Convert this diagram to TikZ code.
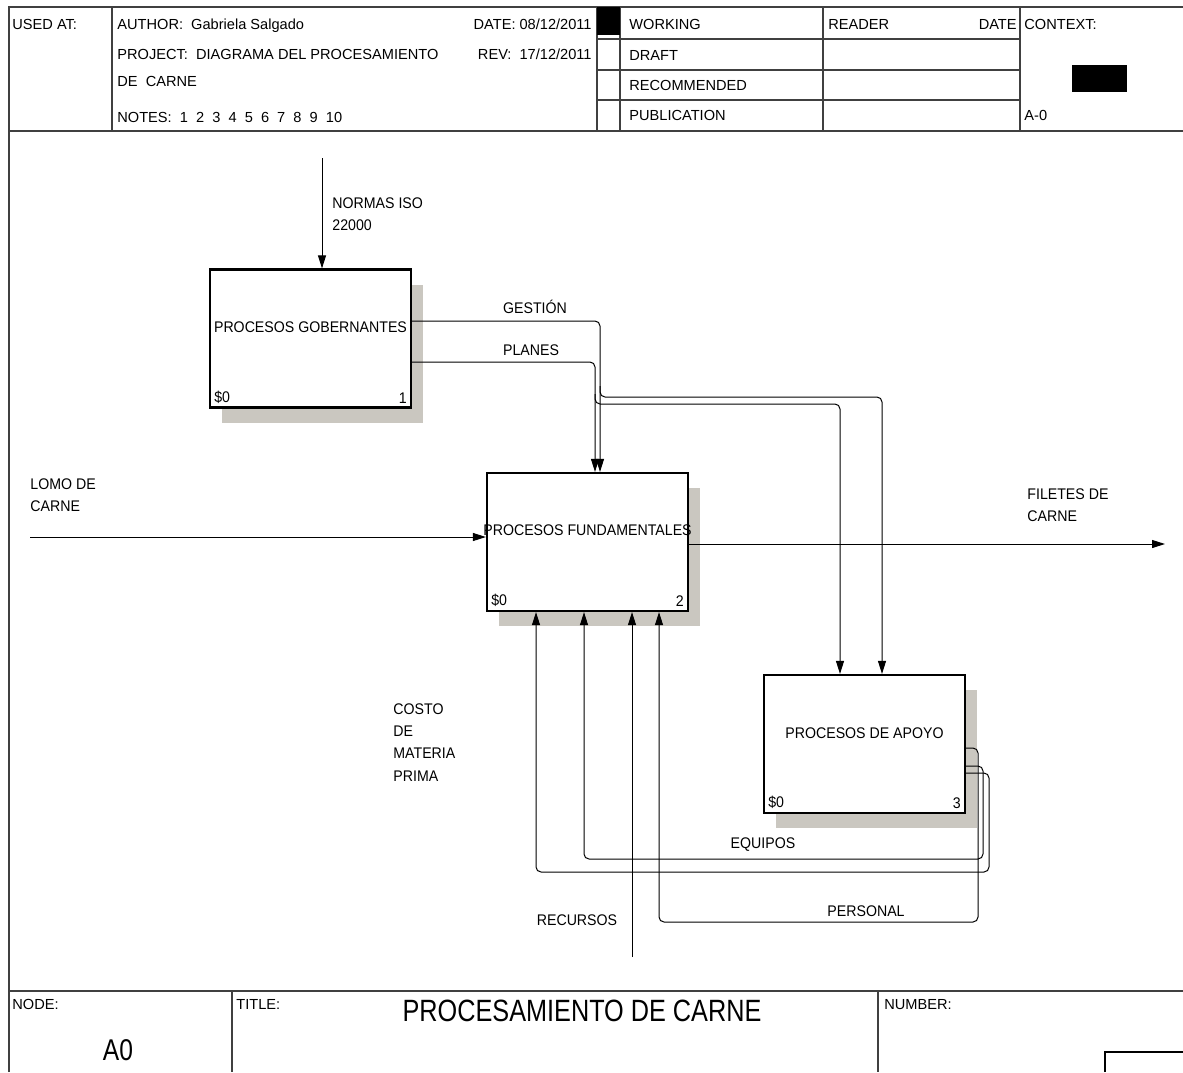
\documentclass[tikz,border=0pt]{standalone}
\usepackage{fontspec}
\setmainfont{Liberation Sans}
\newfontfamily\narrowsans{Liberation Sans}[FakeStretch=0.92]
\newfontfamily\titlesans{Liberation Sans}[FakeStretch=0.82]
\newcommand{\lblfont}{\narrowsans\fontsize{7.7pt}{11.2pt}\selectfont}
\newcommand{\hdrfont}{\rmfamily\fontsize{7.3pt}{9pt}\selectfont}
\usepackage{tikz}
\usetikzlibrary{positioning, arrows.meta, calc, shadows}
\definecolor{shadowgray}{RGB}{202,199,192}

\begin{document}
\begin{tikzpicture}[
    x=0.5pt, y=-0.5pt,
    >={Triangle[length=6.5pt, width=4pt]},
    idefbox/.style={draw, line width=1.1pt, fill=white,
                    minimum width=100.5pt, minimum height=69pt,
                    drop shadow={shadow xshift=6pt, shadow yshift=-7.5pt,
                                 opacity=1, fill=shadowgray}},
    boxlbl/.style={font=\lblfont, inner sep=0pt},
    cornerlbl/.style={font=\lblfont, inner xsep=2.5pt, inner ysep=2.5pt},
    flow/.style={->, line width=0.5pt, rounded corners=2.5pt},
    flowlbl/.style={font=\lblfont, align=left, inner sep=0pt},
    hdr/.style={font=\hdrfont, inner sep=0pt, anchor=base west},
    frameline/.style={draw=black!75, line width=0.8pt},
]
\useasboundingbox (0,0) rectangle (1183,1072);

% Frame and header grid
\draw[frameline] (9,1072) -- (9,7) -- (1183,7);
\draw[frameline] (9,131) -- (1183,131);
\draw[frameline] (9,991) -- (1183,991);
\foreach \xx in {112,597,620,823,1020}
  \draw[frameline] (\xx,7) -- (\xx,131);
\foreach \yy in {39,70,100}
  \draw[frameline] (597,\yy) -- (1020,\yy);
\fill (597,7) rectangle (620,35);
\fill (1072,65) rectangle (1127,92);
% Footer grid
\foreach \xx in {232,878}
  \draw[frameline] (\xx,991) -- (\xx,1072);
\draw[line width=0.6pt] (1105,1072) -- (1105,1052) -- (1183,1052);

% Header texts
\node[hdr] (usedat) at (12,29) {USED AT:};
\node[hdr] (author) at (117,29) {AUTHOR:~~Gabriela Salgado};
\node[hdr, anchor=base east] (date) at (592,29) {DATE: 08/12/2011};
\node[hdr] (project) at (117,59) {PROJECT:~~DIAGRAMA DEL PROCESAMIENTO};
\node[hdr] (project2) at (117,86) {DE~~CARNE};
\node[hdr, anchor=base east] (rev) at (592,59) {REV:~~17/12/2011};
\node[hdr] (notes) at (117,122) {NOTES:~~1~~2~~3~~4~~5~~6~~7~~8~~9~~10};
\node[hdr] (working) at (629,29) {WORKING};
\node[hdr] (draft) at (629,60) {DRAFT};
\node[hdr] (recommended) at (629,90) {RECOMMENDED};
\node[hdr] (publication) at (629,120) {PUBLICATION};
\node[hdr] (reader) at (828,29) {READER};
\node[hdr, anchor=base east] (rdate) at (1017,29) {DATE};
\node[hdr] (context) at (1024,29) {CONTEXT:};
\node[hdr] (azero) at (1024,120) {A-0};

% Footer texts
\node[hdr] (nodelbl) at (12,1009) {NODE:};
\node[hdr] (titlelbl) at (236,1009) {TITLE:};
\node[hdr] (numberlbl) at (884,1009) {NUMBER:};
\node[font=\titlesans\fontsize{15pt}{18pt}\selectfont, inner sep=0pt] (nodeid) at (118,1050) {A0};
\node[font=\titlesans\fontsize{15.4pt}{18pt}\selectfont, inner sep=0pt] (title) at (582,1011) {PROCESAMIENTO DE CARNE};

% Activity boxes
\node[idefbox] (gob) at (310.5,338.5) {};
\node[idefbox] (fund) at (587.5,542) {};
\node[idefbox] (apoyo) at (864.5,744) {};

\node[boxlbl] (lgob) at ([yshift=5.75pt]gob.center) {PROCESOS GOBERNANTES};
\node[boxlbl] (lfund) at ([yshift=6pt]fund.center) {PROCESOS FUNDAMENTALES};
\node[boxlbl] (lapoyo) at ([yshift=5.5pt]apoyo.center) {PROCESOS DE APOYO};

\node[cornerlbl, anchor=south west] (cgob) at (gob.south west) {\$0};
\node[cornerlbl, anchor=south east] (ngob) at (gob.south east) {1};
\node[cornerlbl, anchor=south west] (cfund) at (fund.south west) {\$0};
\node[cornerlbl, anchor=south east] (nfund) at (fund.south east) {2};
\node[cornerlbl, anchor=south west] (capoyo) at (apoyo.south west) {\$0};
\node[cornerlbl, anchor=south east] (napoyo) at (apoyo.south east) {3};

% Free ends of boundary arrows
\coordinate (normas) at (322,158);
\coordinate (lomo) at (30,537);
\coordinate (filetes) at (1165,544);
\coordinate (recursos) at (632,957);
\coordinate (gbranch) at (600,386);
\coordinate (pbranch) at (595,394);

% === Arrows ===
% Controls and inputs
\draw[flow] (normas) -- (normas |- gob.north);
\draw[flow] (lomo) -- (lomo -| fund.west);
\draw[flow] (fund.east |- filetes) -- (filetes);

% Outputs of box 1
\draw[flow] ([yshift=8.75pt]gob.east) -| ([xshift=6.25pt]fund.north);
\draw[flow] ([yshift=-11.75pt]gob.east) -| ([xshift=3.75pt]fund.north);
\draw[flow] (gbranch) |- (720,397) -| ([xshift=8.75pt]apoyo.north);
\draw[flow] (pbranch) |- (720,404) -| ([xshift=-12.25pt]apoyo.north);

% Mechanisms
\draw[flow] (recursos) -- ([xshift=22.25pt]fund.south);
\draw[flow] ([yshift=-2pt]apoyo.east) -| (978,922) -| ([xshift=35.75pt]fund.south);
\draw[flow] ([yshift=-11pt]apoyo.east) -| (983,859) -| ([xshift=-1.75pt]fund.south);
\draw[flow] ([yshift=-14.5pt]apoyo.east) -| (989,872) -| ([xshift=-25.75pt]fund.south);

% Arrow labels
\node[flowlbl, anchor=north west] (lnormas) at (332,197) {NORMAS ISO\\22000};
\node[flowlbl] (lgestion) at (535,307) {GESTIÓN};
\node[flowlbl] (lplanes) at (531,350) {PLANES};
\node[flowlbl, anchor=north west] (llomo) at (30,478) {LOMO DE\\CARNE};
\node[flowlbl, anchor=north west] (lfiletes) at (1027,488) {FILETES DE\\CARNE};
\node[flowlbl, anchor=north west] (lcosto) at (393,703) {COSTO\\DE\\MATERIA\\PRIMA};
\node[flowlbl] (lequipos) at (763,845) {EQUIPOS};
\node[flowlbl] (lpersonal) at (866,911) {PERSONAL};
\node[flowlbl] (lrecursos) at (577,920) {RECURSOS};

\end{tikzpicture}
\end{document}
